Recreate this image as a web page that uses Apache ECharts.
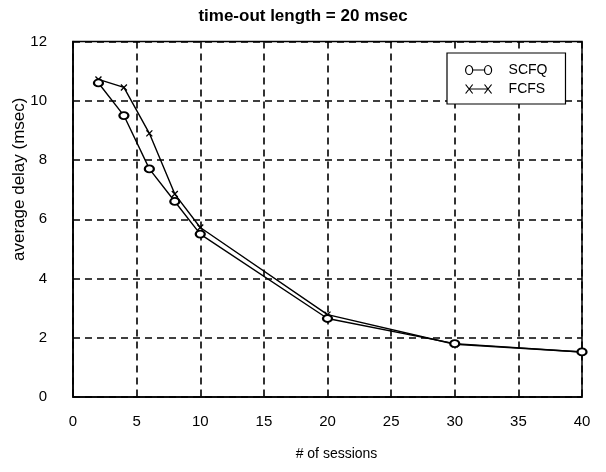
<!DOCTYPE html>
<html>
<head>
<meta charset="utf-8">
<script src="https://cdn.jsdelivr.net/npm/echarts@6/dist/echarts.min.js"></script>
<style>
  html, body { margin: 0; padding: 0; background: #fff; }
  #chart { width: 606px; height: 472px; }
</style>
</head>
<body>
<div id="chart"></div>
<script>
// 数据
const sessions = [2, 4, 6, 8, 10, 20, 30, 40]
const scfqDelay = [10.6, 9.5, 7.7, 6.6, 5.5, 2.65, 1.8, 1.52]
const fcfsDelay = [10.72, 10.45, 8.9, 6.85, 5.72, 2.78, 1.78, 1.52]
const seriesNames = ["SCFQ", "FCFS"]

const font = "'Liberation Sans', Arial, sans-serif"

// 图例图标  o-o  和  x-x
const iconCircle = "path://M0,4a3,3 0 1,0 6,0a3,3 0 1,0 -6,0M6,4L16,4M16,4a3,3 0 1,0 6,0a3,3 0 1,0 -6,0"
const iconCross = "path://M0,0L6,8M6,0L0,8M3,4L19,4M16,0L22,8M22,0L16,8"
const crossSymbol = "path://M0,0L10,10M10,0L0,10"

const toPairs = (ys) => sessions.map((x, i) => [x, ys[i]])

const myChart = echarts.init(document.getElementById("chart"))

const option = {
  backgroundColor: "#fff",
  animation: false,
  title: {
    text: "time-out length = 20 msec",
    left: "center",
    top: 3,
    textStyle: { fontFamily: font, fontSize: 17, fontWeight: "bold", color: "#000" },
  },
  legend: {
    orient: "vertical",
    left: 447,
    top: 53,
    padding: [10, 18, 8, 18],
    itemGap: 5,
    itemWidth: 26,
    itemHeight: 9,
    symbolKeepAspect: false,
    borderColor: "#000",
    borderWidth: 1.2,
    backgroundColor: "#fff",
    itemStyle: { color: "transparent", borderColor: "#000", borderWidth: 1.2 },
    textStyle: { fontFamily: font, fontSize: 14, color: "#000", padding: [0, 0, 0, 12] },
    data: [
      { name: seriesNames[0], icon: iconCircle },
      { name: seriesNames[1], icon: iconCross },
    ],
  },
  grid: {
    left: 73,
    right: 24,
    top: 41.5,
    bottom: 75,
    containLabel: false,
    outerBoundsMode: "none",
    show: true,
    borderColor: "#000",
    borderWidth: 1.5,
  },
  xAxis: {
    type: "value",
    min: 0,
    max: 40,
    interval: 5,
    name: "# of sessions",
    nameLocation: "middle",
    nameGap: 50,
    nameTextStyle: { fontFamily: font, fontSize: 14, color: "#000", padding: [0, 0, 0, 18] },
    axisLine: { show: true, lineStyle: { color: "#000", width: 1.5 } },
    axisTick: { show: false },
    axisLabel: { fontFamily: font, fontSize: 15, color: "#000", margin: 17 },
    splitLine: { show: true, lineStyle: { color: "#000", type: [7, 5], width: 1.6 } },
  },
  yAxis: {
    type: "value",
    min: 0,
    max: 12,
    interval: 2,
    name: "average delay (msec)",
    nameLocation: "middle",
    nameGap: 45,
    nameMoveOverlap: false,
    nameTextStyle: { fontFamily: font, fontSize: 17, color: "#000", padding: [0, 0, 0, 80] },
    axisLine: { show: true, lineStyle: { color: "#000", width: 1.5 } },
    axisTick: { show: false },
    axisLabel: { fontFamily: font, fontSize: 15, color: "#000", margin: 26 },
    splitLine: { show: true, lineStyle: { color: "#000", type: [7, 5], width: 1.6 } },
  },
  series: [
    {
      name: seriesNames[0],
      type: "line",
      data: toPairs(scfqDelay),
      symbol: "emptyCircle",
      symbolSize: [9, 7],
      lineStyle: { color: "#000", width: 1.4 },
      itemStyle: { color: "#000", borderWidth: 1.3 },
      z: 3,
    },
    {
      name: seriesNames[1],
      type: "line",
      data: toPairs(fcfsDelay),
      symbol: crossSymbol,
      symbolSize: 6,
      lineStyle: { color: "#000", width: 1.4 },
      itemStyle: { color: "#000", borderColor: "#000", borderWidth: 1.3 },
      z: 2,
    },
  ],
}

myChart.setOption(option)
</script>
</body>
</html>
